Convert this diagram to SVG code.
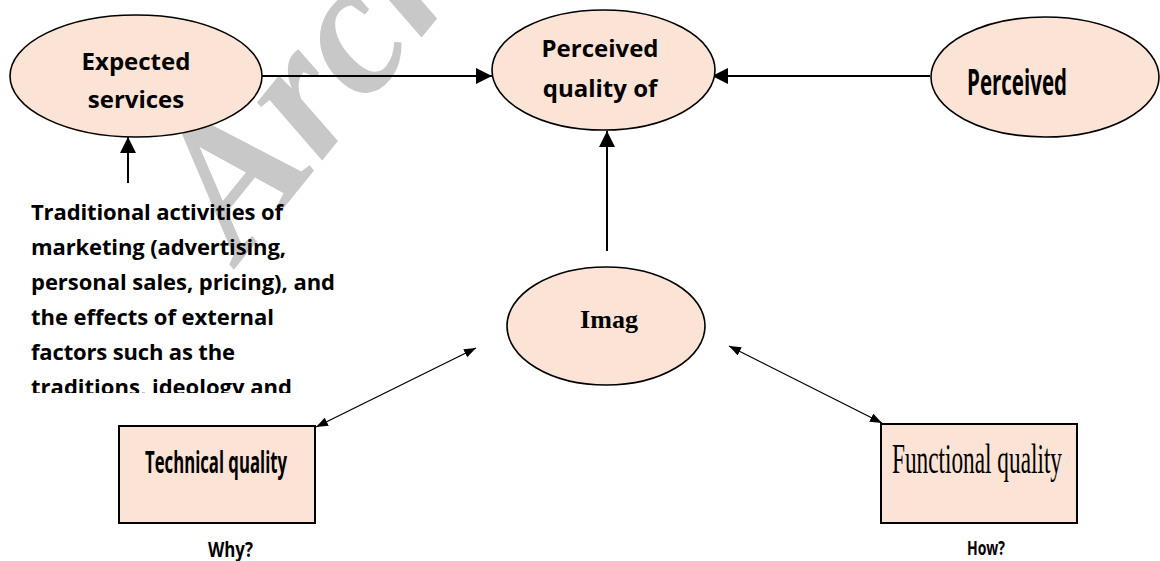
<svg xmlns="http://www.w3.org/2000/svg" width="1160" height="561" viewBox="0 0 1160 561">
<style>
.shape{fill:#fbe4d5;stroke:#000;stroke-width:1.6}
.box{fill:#fbe4d5;stroke:#000;stroke-width:2}
.sans{font-family:"Open Sans","Liberation Sans",sans-serif;font-weight:bold;fill:#000}
.serif{font-family:"Liberation Serif","Times New Roman",serif;fill:#000}
.big{stroke:#000;stroke-width:2;fill:none}
.thin{stroke:#000;stroke-width:1.3;fill:none}
.wm{font-family:"Liberation Serif",serif;font-weight:bold;font-style:italic;fill:#c8c8c8}
</style>
<defs>
<marker id="ah" markerUnits="userSpaceOnUse" markerWidth="17" markerHeight="17" refX="16" refY="8" orient="auto">
<path d="M0,0 L16,8 L0,16 z" fill="#000"/>
</marker>
<marker id="as" markerUnits="userSpaceOnUse" markerWidth="13" markerHeight="10" refX="12" refY="4.5" orient="auto-start-reverse">
<path d="M0,0 L12,4.5 L0,9 z" fill="#000"/>
</marker>
<clipPath id="tclip"><rect x="0" y="190" width="400" height="203"/></clipPath>
</defs>
<rect width="1160" height="561" fill="#fff"/>
<g id="watermark">
<text class="wm" x="0" y="0" font-size="190" transform="translate(240,262) rotate(-51)">Archive</text>
</g>
<g id="connectors">
<line class="big" x1="262" y1="76" x2="492" y2="76" marker-end="url(#ah)"/>
<line class="big" x1="930" y1="76" x2="712" y2="76" marker-end="url(#ah)"/>
<line class="big" x1="128" y1="183" x2="128" y2="137" marker-end="url(#ah)"/>
<line class="big" x1="607" y1="251" x2="607" y2="131" marker-end="url(#ah)"/>
<line class="thin" x1="316" y1="427" x2="476" y2="348" marker-start="url(#as)" marker-end="url(#as)"/>
<line class="thin" x1="882" y1="423" x2="729" y2="346" marker-start="url(#as)" marker-end="url(#as)"/>
</g>
<g id="expected">
<ellipse class="shape" cx="136" cy="76" rx="126" ry="61"/>
<text class="sans" font-size="24" text-anchor="middle" x="136" y="70">Expected</text>
<text class="sans" font-size="24" text-anchor="middle" x="136" y="108">services</text>
</g>
<g id="perceived-quality">
<ellipse class="shape" cx="603.5" cy="70" rx="111.5" ry="60"/>
<text class="sans" font-size="24" text-anchor="middle" x="600" y="57">Perceived</text>
<text class="sans" font-size="24" text-anchor="middle" x="600" y="97">quality of</text>
</g>
<g id="perceived">
<ellipse class="shape" cx="1045" cy="77" rx="114" ry="60"/>
<text class="sans" font-size="36" x="967" y="95" textLength="100" lengthAdjust="spacingAndGlyphs">Perceived</text>
</g>
<g id="traditional">
<g clip-path="url(#tclip)">
<text class="sans" font-size="22" x="31" y="220" textLength="252" lengthAdjust="spacing">Traditional activities of</text>
<text class="sans" font-size="22" x="31" y="255" textLength="255" lengthAdjust="spacing">marketing (advertising,</text>
<text class="sans" font-size="22" x="31" y="290" textLength="304" lengthAdjust="spacing">personal sales, pricing), and</text>
<text class="sans" font-size="22" x="31" y="325" textLength="243" lengthAdjust="spacing">the effects of external</text>
<text class="sans" font-size="22" x="31" y="360" textLength="204" lengthAdjust="spacing">factors such as the</text>
<text class="sans" font-size="22" x="31" y="395" textLength="261" lengthAdjust="spacing">traditions, ideology and</text>
</g>
</g>
<g id="image">
<ellipse class="shape" cx="606" cy="326" rx="99" ry="59"/>
<text class="serif" font-weight="bold" font-size="26" text-anchor="middle" x="609" y="328">Imag</text>
</g>
<g id="technical">
<rect class="box" x="119" y="426" width="196" height="97"/>
<text class="sans" font-size="31" x="145" y="473" textLength="142" lengthAdjust="spacingAndGlyphs">Technical quality</text>
<text class="sans" font-size="21" x="208" y="557" textLength="45" lengthAdjust="spacingAndGlyphs">Why?</text>
</g>
<g id="functional">
<rect class="box" x="881" y="424" width="196" height="99"/>
<text class="serif" font-size="42" x="892" y="473" textLength="170" lengthAdjust="spacingAndGlyphs">Functional quality</text>
<text class="sans" font-size="19" x="967" y="555" textLength="38" lengthAdjust="spacingAndGlyphs">How?</text>
</g>
</svg>
